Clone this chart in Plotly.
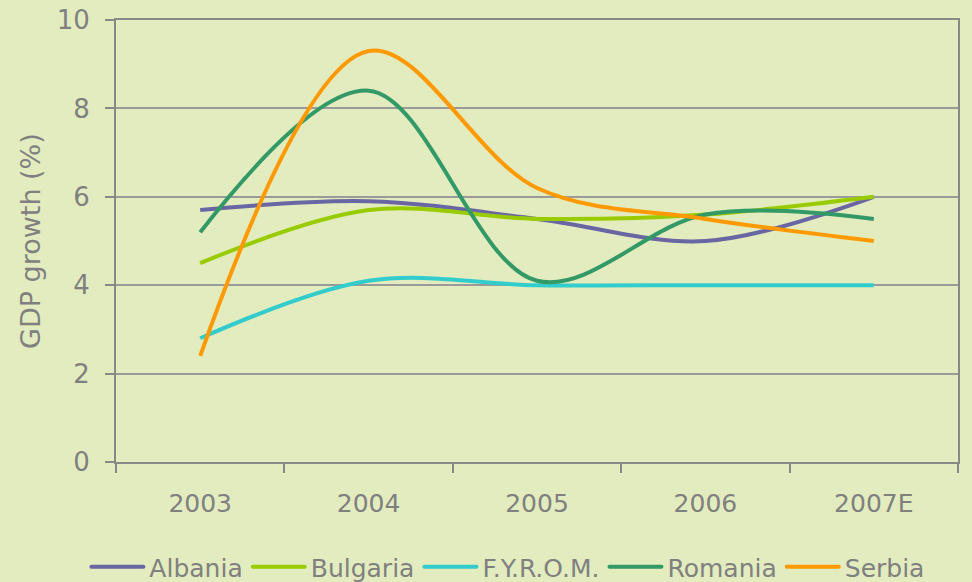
import plotly.graph_objects as go

years = ["2003", "2004", "2005", "2006", "2007E"]
albania = [5.7, 5.9, 5.5, 5.0, 6.0]
bulgaria = [4.5, 5.7, 5.5, 5.6, 6.0]
fyrom = [2.8, 4.1, 4.0, 4.0, 4.0]
romania = [5.2, 8.4, 4.1, 5.6, 5.5]
serbia = [2.4, 9.3, 6.2, 5.5, 5.0]
y_ticks = [0, 2, 4, 6, 8, 10]

series = [
    ("Albania", albania, "#6a66a3"),
    ("Bulgaria", bulgaria, "#99cc00"),
    ("F.Y.R.O.M.", fyrom, "#33cccc"),
    ("Romania", romania, "#339966"),
    ("Serbia", serbia, "#ff9900"),
]

BG = "#e3ecbf"
TXT = "#808080"
FONT = "DejaVu Sans"

fig = go.Figure()
for name, vals, col in series:
    fig.add_trace(go.Scatter(
        x=years, y=vals, name=name, mode="lines",
        line=dict(color=col, width=4, shape="spline", smoothing=1),
    ))

fig.update_layout(
    width=972, height=582,
    margin=dict(l=116, r=14, t=20, b=120, autoexpand=False),
    paper_bgcolor=BG, plot_bgcolor=BG,
    font=dict(family=FONT, color=TXT, size=24),
    showlegend=True,
    legend=dict(orientation="h", x=0.466, xanchor="center", y=-0.2376, yanchor="middle",
                font=dict(size=25, color=TXT), bgcolor="rgba(0,0,0,0)",
                itemwidth=53, tracegroupgap=0),
    xaxis=dict(type="category", range=[-0.5, 4.5], showline=True, linecolor="#888888", linewidth=2,
               mirror=True, ticks="outside", tickson="boundaries", ticklen=9, tickcolor="#888888",
               tickwidth=1.5, showgrid=False, tickfont=dict(size=25, color=TXT), ticklabelstandoff=18,
               automargin=False),
    yaxis=dict(range=[0, 10], tickvals=y_ticks, showline=True, linecolor="#888888", linewidth=2,
               mirror=True, ticks="outside", ticklen=9, tickcolor="#888888", tickwidth=1.5,
               showgrid=True, gridcolor="#9a9a9a", gridwidth=1.5, zeroline=False,
               tickfont=dict(size=26, color=TXT), ticklabelstandoff=10, automargin=False),
    annotations=[dict(text="GDP growth (%)", xref="paper", yref="paper", x=-0.1021, y=0.5,
                      xanchor="center", yanchor="middle", textangle=-90, showarrow=False,
                      font=dict(size=27, color=TXT))],
)

post = """
document.body.style.margin = '0';
document.body.style.padding = '0';
var gd = document.getElementById('{plot_id}');
function fixLegend() {
  var paths = gd.querySelectorAll('.legend .legendlines path');
  paths.forEach(function(p) { p.setAttribute('d', 'M5,0h52'); p.style.strokeLinecap = 'round'; });
}
fixLegend();
setTimeout(fixLegend, 50);
if (gd.on) { gd.on('plotly_afterplot', fixLegend); }
"""

fig.write_html("out.html", post_script=post, config={"displayModeBar": False})
